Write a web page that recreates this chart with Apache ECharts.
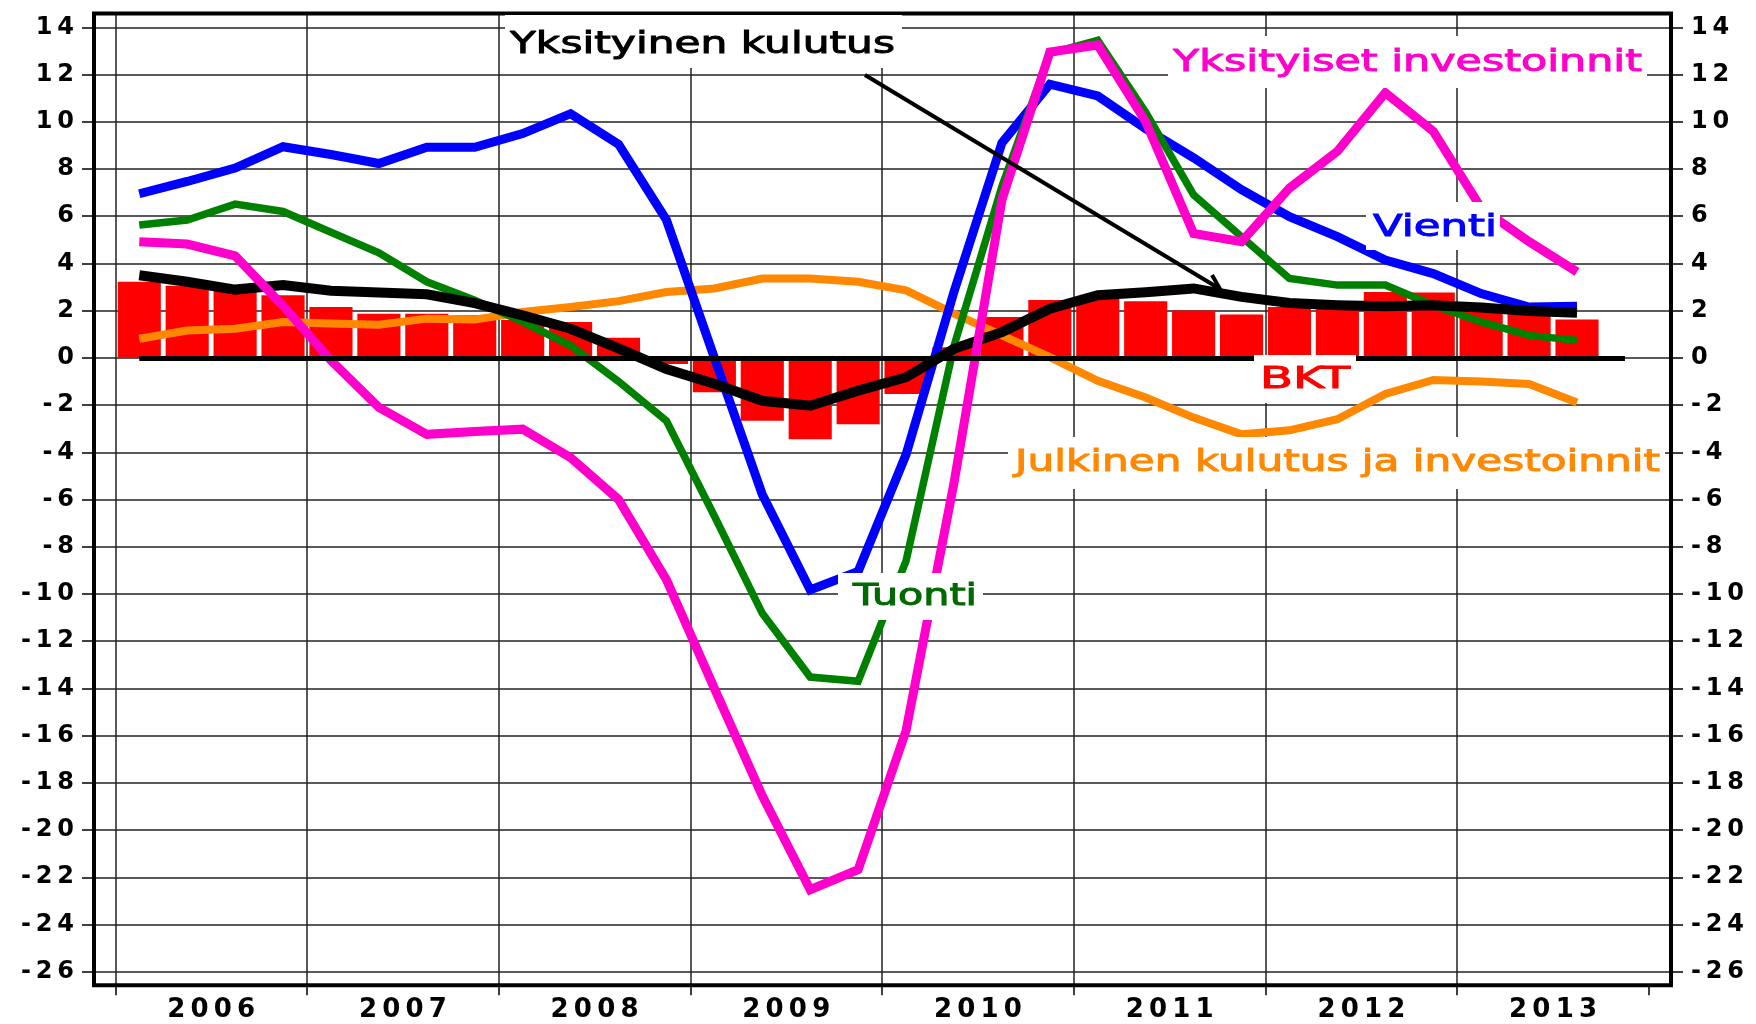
<!DOCTYPE html>
<html>
<head>
<meta charset="utf-8">
<title>Kysyntäerien kasvu</title>
<script src="https://cdn.jsdelivr.net/npm/echarts@6/dist/echarts.min.js"></script>
<style>
  html, body { margin: 0; padding: 0; background: #fff; }
  #chart { width: 1756px; height: 1024px; }
</style>
</head>
<body>
<div id="chart"></div>
<script>
// vuosineljännekset, viimeinen (2013Q4) ilman arvoja
const quarters = [
  '2006Q1','2006Q2','2006Q3','2006Q4','2007Q1','2007Q2','2007Q3','2007Q4',
  '2008Q1','2008Q2','2008Q3','2008Q4','2009Q1','2009Q2','2009Q3','2009Q4',
  '2010Q1','2010Q2','2010Q3','2010Q4','2011Q1','2011Q2','2011Q3','2011Q4',
  '2012Q1','2012Q2','2012Q3','2012Q4','2013Q1','2013Q2','2013Q3','2013Q4'
];
const years = ['2006', '2007', '2008', '2009', '2010', '2011', '2012', '2013'];

// muutos %, luettu kuvasta
const bkt = [3.22, 3.05, 2.85, 2.65, 2.15, 1.87, 1.87, 1.8, 1.6, 1.52, 0.85, -0.26, -1.46, -2.67, -3.45, -2.81,
  -1.53, 0.45, 1.73, 2.45, 2.5, 2.4, 2.01, 1.84, 2.15, 2.1, 2.79, 2.77, 2.0, 1.9, 1.62];
const vienti = [6.95, 7.47, 8.04, 8.94, 8.61, 8.23, 8.92, 8.92, 9.5, 10.34, 9.05, 5.84, 0.0, -5.79, -9.83, -9.05,
  -4.09, 2.8, 9.1, 11.59, 11.09, 9.7, 8.47, 7.12, 5.98, 5.13, 4.14, 3.57, 2.72, 2.15, 2.18];
const tuonti = [5.63, 5.84, 6.51, 6.2, 5.32, 4.45, 3.22, 2.44, 1.52, 0.52, -1.0, -2.67, -6.7, -10.82, -13.52, -13.7,
  -8.6, 0.5, 7.26, 12.9, 13.45, 10.4, 6.9, 5.13, 3.36, 3.08, 3.08, 2.23, 1.52, 0.95, 0.74];
const yksInvestoinnit = [4.92, 4.82, 4.32, 2.2, -0.11, -2.1, -3.24, -3.12, -3.02, -4.23, -6.0, -9.4, -14.0, -18.55, -22.53, -21.68,
  -15.79, -5.3, 6.69, 12.95, 13.25, 10.0, 5.27, 4.92, 7.19, 8.75, 11.23, 9.6, 6.34, 4.92, 3.64];
const yksKulutus = [3.5, 3.22, 2.89, 3.08, 2.84, 2.77, 2.69, 2.32, 1.8, 1.23, 0.4, -0.47, -1.1, -1.82, -2.03, -1.39,
  -0.82, 0.38, 1.09, 2.08, 2.65, 2.78, 2.94, 2.58, 2.32, 2.23, 2.18, 2.23, 2.13, 1.98, 1.91];
const julkinen = [0.81, 1.16, 1.23, 1.52, 1.45, 1.4, 1.66, 1.62, 1.94, 2.15, 2.4, 2.79, 2.94, 3.36, 3.36, 3.22,
  2.86, 1.87, 0.95, 0.03, -0.97, -1.68, -2.53, -3.24, -3.07, -2.6, -1.53, -0.94, -1.0, -1.11, -1.89];

const FONT = 'DejaVu Sans';
const measureCtx = document.createElement('canvas').getContext('2d');

// leveä (extended) teksti: venytetään mitattuun leveyteen
function wideText(txt, left, midY, width, color) {
  const size = 31;
  measureCtx.font = size + 'px "' + FONT + '"';
  const w = measureCtx.measureText(txt).width;
  return {
    type: 'text', x: left, y: midY, scaleX: width / w, z: 101,
    style: {
      text: txt, x: 0, y: 0, fill: color, stroke: color, lineWidth: 1,
      fontSize: size, fontFamily: FONT, align: 'left', verticalAlign: 'middle'
    }
  };
}
function whiteBox(x, y, w, h) {
  return { type: 'rect', z: 100, shape: { x: x, y: y, width: w, height: h }, style: { fill: '#fff' } };
}
// harvennetaan akselin numerot, alkuperäinen fontti on leveä
function spaced(v) {
  return String(v).split('').join('\u2009');
}

function lineSeries(name, data, color, width) {
  return {
    type: 'line', name: name, xAxisIndex: 1, yAxisIndex: 2, data: data,
    symbol: 'none', itemStyle: { color: color },
    lineStyle: { color: color, width: width, join: 'miter', cap: 'butt' }
  };
}

const axisFont = { color: '#000', fontFamily: FONT, fontSize: 24, fontWeight: 'bold', formatter: spaced };

const chart = echarts.init(document.getElementById('chart'));
chart.setOption({
  animation: false,
  backgroundColor: '#fff',
  grid: [
    { left: 94, right: 85, top: 27.3, bottom: 52.3 },
    { left: 115.3, right: 107.1, top: 13.5, bottom: 38.7 }
  ],
  xAxis: [
    { gridIndex: 0, type: 'value', min: 0, max: 1, show: false },
    { gridIndex: 1, type: 'category', data: quarters, show: false, boundaryGap: true },
    {
      gridIndex: 1, type: 'category', data: years, position: 'bottom', boundaryGap: true,
      axisLine: { show: false },
      axisTick: { show: true, interval: 0, length: 10, lineStyle: { color: '#000', width: 1.5 } },
      axisLabel: Object.assign({ interval: 0, margin: 12 }, axisFont, { fontSize: 26 }),
      splitLine: { show: true, interval: 0, showMaxLine: false, lineStyle: { color: '#222', width: 1.5 } }
    }
  ],
  yAxis: [
    {
      gridIndex: 0, type: 'value', position: 'left', min: -26, max: 14, interval: 2,
      axisLine: { show: false },
      axisTick: { show: true, length: 12, lineStyle: { color: '#000', width: 1.5 } },
      axisLabel: Object.assign({ margin: 20 }, axisFont),
      splitLine: { show: true, lineStyle: { color: '#222', width: 1.5 } }
    },
    {
      gridIndex: 0, type: 'value', position: 'right', min: -26, max: 14, interval: 2,
      axisLine: { show: false },
      axisTick: { show: true, length: 12, lineStyle: { color: '#000', width: 1.5 } },
      axisLabel: Object.assign({ margin: 20 }, axisFont),
      splitLine: { show: false }
    },
    { gridIndex: 1, type: 'value', min: -26.576, max: 14.584, show: false }
  ],
  series: [
    {
      type: 'bar', name: 'BKT', xAxisIndex: 1, yAxisIndex: 2, data: bkt,
      barCategoryGap: '10%', itemStyle: { color: '#ff0000' },
      markLine: {
        silent: true, symbol: 'none', label: { show: false },
        lineStyle: { color: '#000', width: 5, type: 'solid' },
        data: [[{ coord: [quarters[0], 0] }, { coord: [quarters[31], 0] }]]
      }
    },
    lineSeries('Julkinen kulutus ja investoinnit', julkinen, '#ff8800', 8),
    lineSeries('Vienti', vienti, '#0000ff', 9),
    lineSeries('Tuonti', tuonti, '#008000', 7.5),
    lineSeries('Yksityinen kulutus', yksKulutus, '#000000', 10),
    lineSeries('Yksityiset investoinnit', yksInvestoinnit, '#ff00cc', 9)
  ],
  graphic: [
    { type: 'rect', z: 99, shape: { x: 94, y: 13.5, width: 1577, height: 971.8 },
      style: { fill: 'none', stroke: '#000', lineWidth: 4 } },
    whiteBox(505, 15, 397, 53),
    wideText('Yksityinen kulutus', 510, 44.5, 385, '#000'),
    whiteBox(1168, 36, 479, 52),
    wideText('Yksityiset investoinnit', 1173, 63.3, 469, '#ff00cc'),
    whiteBox(1366, 202, 134, 48),
    wideText('Vienti', 1373, 227.5, 124, '#0000ff'),
    whiteBox(838, 573, 145, 47),
    wideText('Tuonti', 853, 596.5, 124, '#006a00'),
    whiteBox(1254, 355, 102, 48),
    wideText('BKT', 1260, 380, 90, '#ff0000'),
    whiteBox(1008, 437, 657, 52),
    wideText('Julkinen kulutus ja investoinnit', 1015, 462.5, 645, '#ff8800'),
    { type: 'line', z: 100, shape: { x1: 865, y1: 75, x2: 1220, y2: 289 },
      style: { stroke: '#000', lineWidth: 4 } },
    { type: 'polyline', z: 100, shape: { points: [[1212, 275], [1220, 289], [1204, 289]] },
      style: { stroke: '#000', lineWidth: 4, fill: null } }
  ]
});
</script>
</body>
</html>
